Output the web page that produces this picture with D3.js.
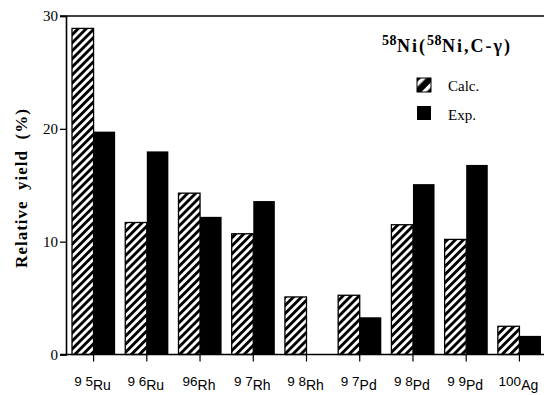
<!DOCTYPE html>
<html><head><meta charset="utf-8">
<script src="https://cdn.jsdelivr.net/npm/d3@7"></script>
<style>body{margin:0;background:#fff}svg{display:block}</style>
</head><body><svg id="c" width="544" height="395"></svg>
<script>
const massLabels = ["9 5","9 6","96","9 7","9 8","9 7","9 8","9 9","100"];
const elements = ["Ru","Ru","Rh","Rh","Rh","Pd","Pd","Pd","Ag"];
const calc = [28.9, 11.7, 14.3, 10.7, 5.1, 5.25, 11.5, 10.2, 2.5];
const exp = [19.75, 18.0, 12.2, 13.6, 0, 3.3, 15.1, 16.8, 1.65];
const yTicks = [0, 10, 20, 30];
const seriesNames = ["Calc.", "Exp."];

const svg = d3.select("#c");
const serif = "'Liberation Serif','Times New Roman',serif";
const sans = "'Liberation Sans',Arial,sans-serif";

const defs = svg.append("defs");
const pat = defs.append("pattern").attr("id","hatch").attr("patternUnits","userSpaceOnUse")
  .attr("width",5.7).attr("height",5.7).attr("patternTransform","rotate(45)");
pat.append("rect").attr("width",5.7).attr("height",5.7).attr("fill","#fff");
pat.append("rect").attr("width",2.9).attr("height",5.7).attr("fill","#000");
const pat2 = defs.append("pattern").attr("id","hatch2").attr("patternUnits","userSpaceOnUse")
  .attr("width",10).attr("height",10).attr("patternTransform","translate(417,78) rotate(45)");
pat2.append("rect").attr("width",10).attr("height",10).attr("fill","#000");
pat2.append("rect").attr("x",3).attr("width",3.5).attr("height",10).attr("fill","#fff");

const idx = d3.range(massLabels.length);
const x = d3.scaleBand().domain(idx).range([66, 547]).paddingInner(0.19).paddingOuter(0.113);
const y = d3.scaleLinear().domain([0, 30]).range([354.5, 16]);
const bw = x.bandwidth()/2;

// bars
const g = svg.append("g");
g.selectAll("rect.calc").data(idx).join("rect").attr("class","calc")
  .attr("x", i => x(i)).attr("y", i => y(calc[i])).attr("width", bw)
  .attr("height", i => y(0) - y(calc[i]))
  .attr("fill","url(#hatch)").attr("stroke","#000").attr("stroke-width",1.3);
g.selectAll("rect.exp").data(idx.filter(i => exp[i] > 0)).join("rect").attr("class","exp")
  .attr("x", i => x(i) + bw).attr("y", i => y(exp[i])).attr("width", bw)
  .attr("height", i => y(0) - y(exp[i])).attr("fill","#000");

// y axis
const yAxis = svg.append("g").attr("transform","translate(66,0)")
  .call(d3.axisLeft(y).tickValues(yTicks).tickSize(6).tickPadding(2));
yAxis.select(".domain").attr("stroke-width",1.6);
yAxis.selectAll(".tick line").attr("stroke-width",1.3);
yAxis.selectAll("text").attr("font-family",serif).attr("font-size",15).attr("fill","#000");

// top line
svg.append("line").attr("x1",60).attr("x2",544).attr("y1",y(30)).attr("y2",y(30))
  .attr("stroke","#000").attr("stroke-width",1.6);

// x axis
svg.append("line").attr("x1",60).attr("x2",544).attr("y1",y(0)).attr("y2",y(0))
  .attr("stroke","#000").attr("stroke-width",1.6);
svg.append("g").selectAll("line").data(idx).join("line")
  .attr("x1", i => x(i)+bw).attr("x2", i => x(i)+bw)
  .attr("y1", y(0)).attr("y2", y(0)+7).attr("stroke","#000").attr("stroke-width",1.2);

// x labels
const lab = svg.append("g").selectAll("text").data(idx).join("text")
  .attr("x", i => x(i)+bw - 1).attr("y", 386).attr("text-anchor","middle")
  .attr("font-family",sans).attr("font-size",13.5).attr("fill","#000");
lab.append("tspan").text(i => massLabels[i]);
lab.append("tspan").attr("dy",4).attr("font-size",14).text(i => elements[i]);

// y label
svg.append("text").attr("transform","translate(27,188) rotate(-90)")
  .attr("text-anchor","middle").attr("font-family",serif).attr("font-weight","bold")
  .attr("font-size",17).attr("letter-spacing",1).attr("xml:space","preserve").text("Relative  yield  (%)");

// title
const t = svg.append("text").attr("x",382).attr("y",52).attr("font-family",serif)
  .attr("font-weight","bold").attr("font-size",18).attr("letter-spacing",2);
t.append("tspan").attr("font-size",14).attr("letter-spacing",0.5).attr("dy",-7).text("58");
t.append("tspan").attr("dy",7).text("Ni(");
t.append("tspan").attr("font-size",14).attr("letter-spacing",0.5).attr("dy",-7).text("58");
t.append("tspan").attr("dy",7).text("Ni,C-γ)");

// legend
const leg = svg.append("g");
leg.append("rect").attr("x",417).attr("y",78).attr("width",14).attr("height",14)
  .attr("fill","url(#hatch2)").attr("stroke","#000").attr("stroke-width",1);
leg.append("rect").attr("x",417).attr("y",106).attr("width",14).attr("height",14).attr("fill","#000");
leg.selectAll("text").data(seriesNames).join("text")
  .attr("x",448).attr("y",(d,i)=>91+i*29).attr("font-family",serif).attr("font-size",15)
  .text(d=>d);
</script></body></html>
